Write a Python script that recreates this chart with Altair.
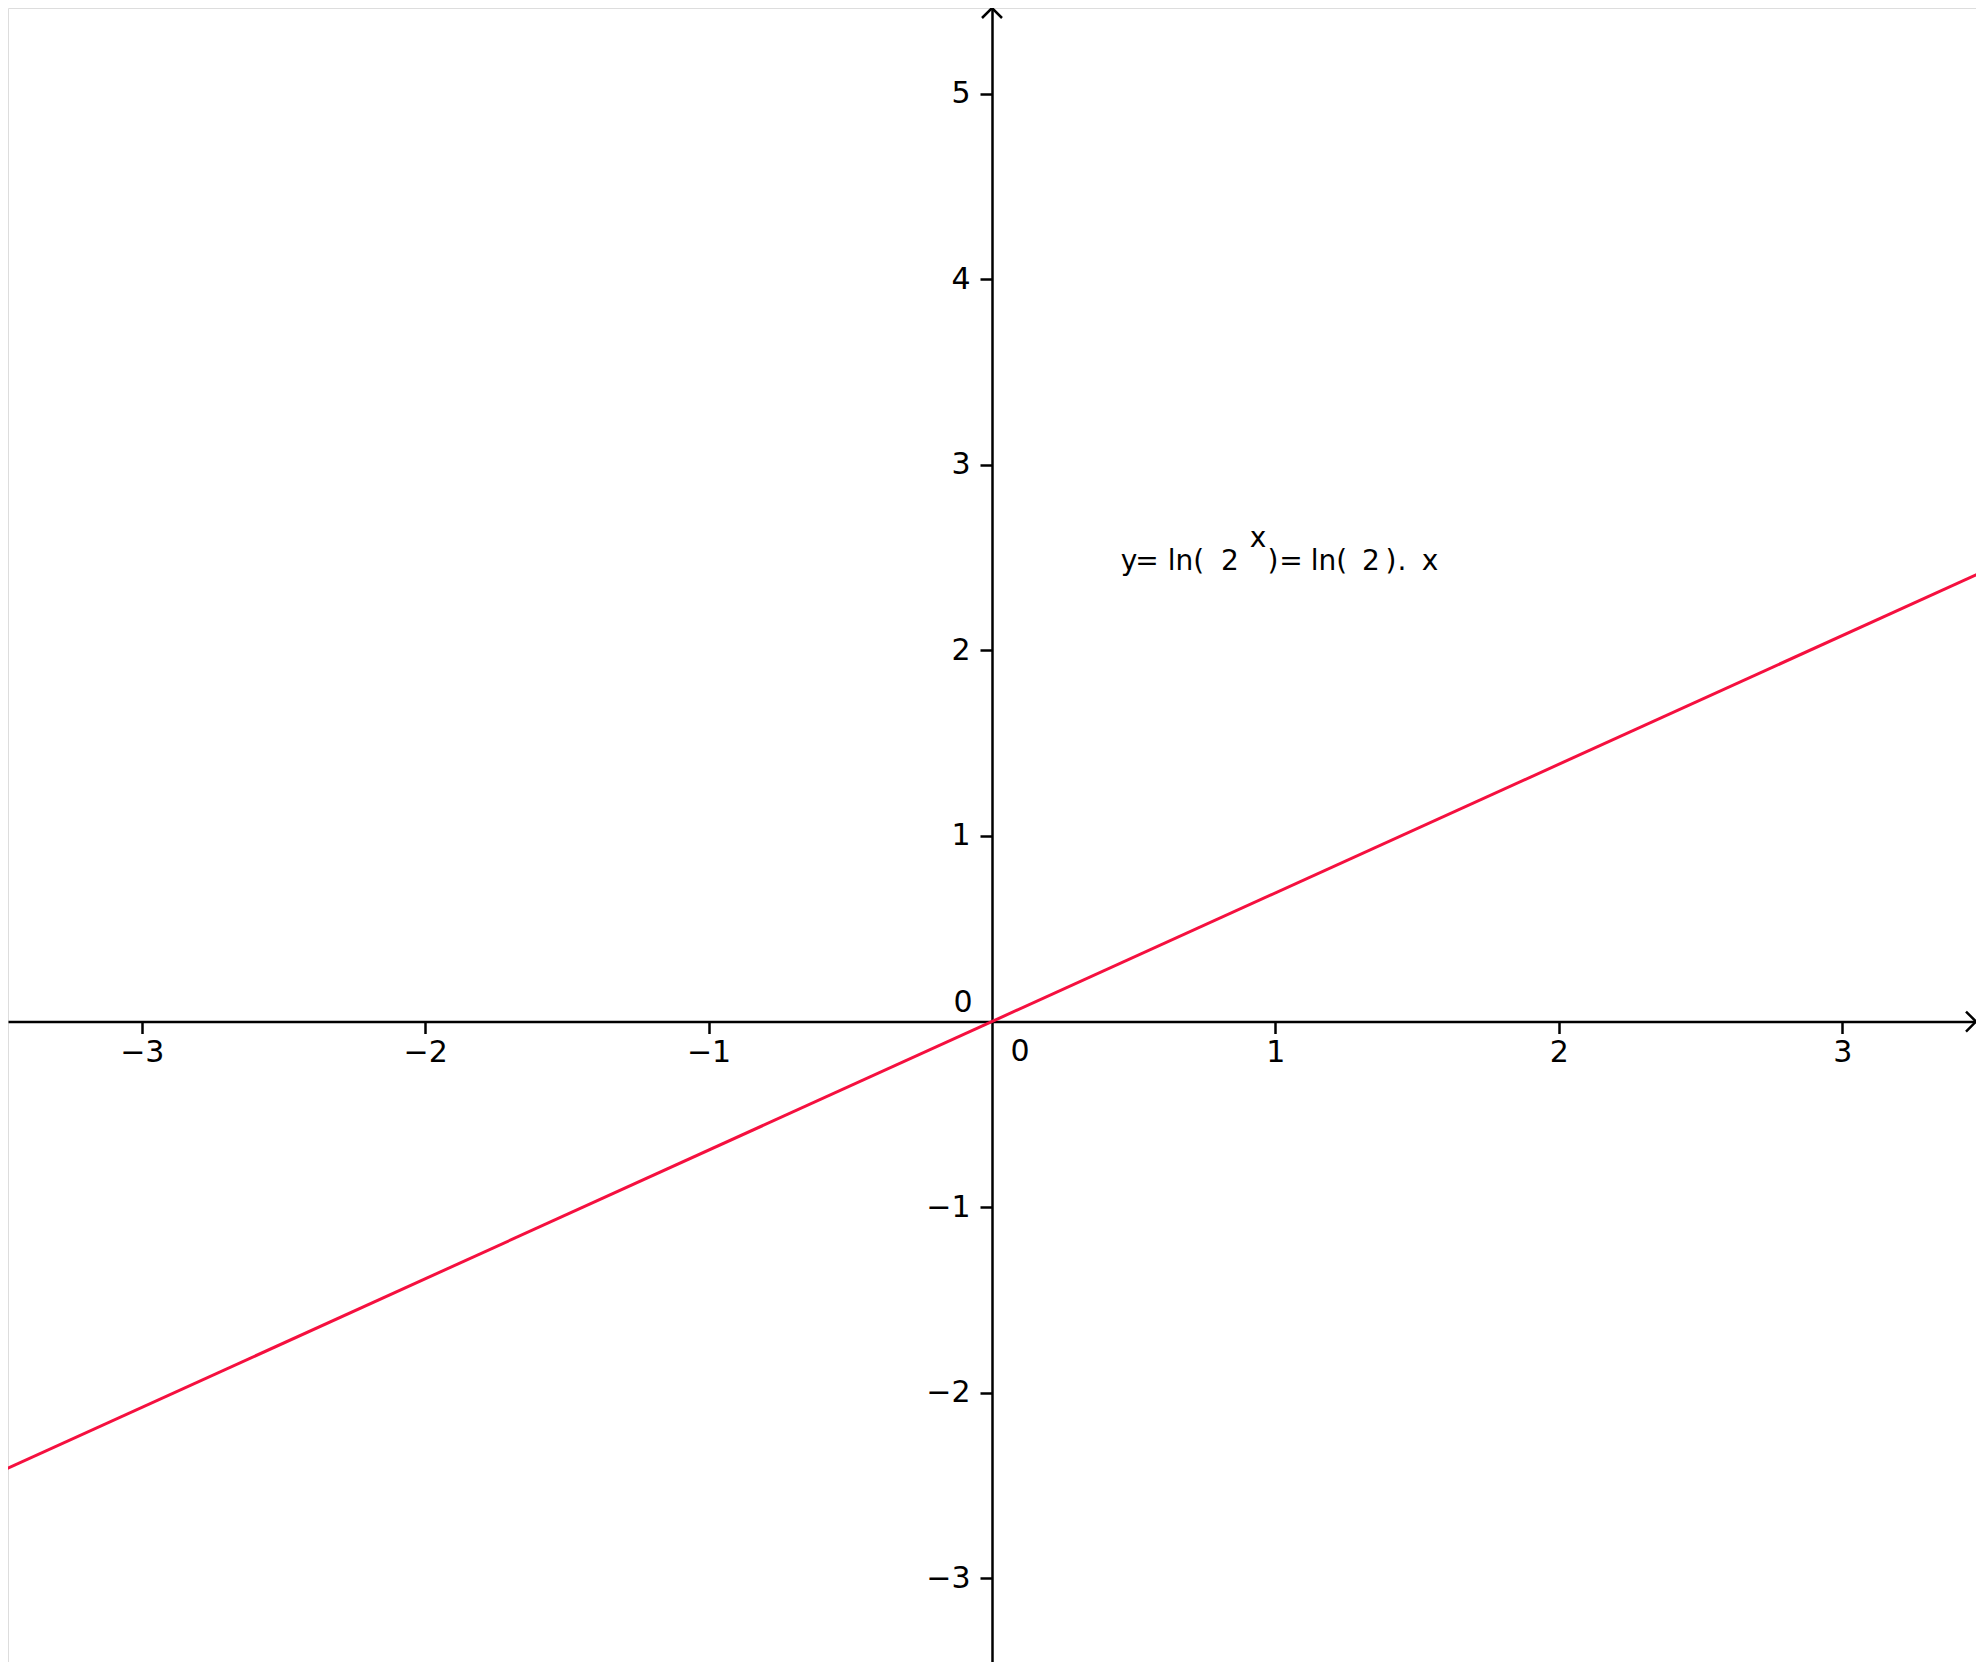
import altair as alt
import pandas as pd

# Function line y = ln(2)·x, read at the two edges of the view
line_x = [-3.5, 3.5]
line_y = [-2.426, 2.426]

# Tick values on each axis (0 is drawn separately, GeoGebra style)
x_ticks = [-3, -2, -1, 1, 2, 3]
y_ticks = [-3, -2, -1, 1, 2, 3, 4, 5]

# Visible window of the graph
x_domain = [-3.472, 3.472]
y_domain = [-3.451, 5.461]

# Annotation anchor and its pieces
label_x = [0.4516]
label_y = [2.4328]
label_pieces = ["y", "=", "ln(", "2", "x", ")", "=", "ln(", "2", ")", ".", "x"]

W, H = 1968, 1654
FONT = "DejaVu Sans"

xs = alt.Scale(domain=x_domain, nice=False, zero=False)
ys = alt.Scale(domain=y_domain, nice=False, zero=False)

axis_common = dict(
    grid=False, title=None, tickSize=12, tickWidth=2.5, domainWidth=2.5,
    domainColor="black", tickColor="black", labelColor="black", format="d",
    labelFont=FONT, labelFontSize=30, labelFlush=False, labelOverlap=False,
)

line_df = pd.DataFrame({"x": line_x, "y": line_y})

line = alt.Chart(line_df).mark_line(color="#f5103f", strokeWidth=3, clip=True).encode(
    x=alt.X("x:Q", scale=xs,
            axis=alt.Axis(values=x_ticks, orient="bottom", offset=-(1654 - 1013.5), labelPadding=4, **axis_common)),
    y=alt.Y("y:Q", scale=ys,
            axis=alt.Axis(values=y_ticks, orient="left", offset=-984, labelPadding=10, **axis_common)),
)

origin = pd.DataFrame({"x": [0], "y": [0], "t": ["0"]})
zero_y = alt.Chart(origin).mark_text(
    font=FONT, fontSize=30, color="black", align="center", baseline="middle", dx=-29, dy=-19
).encode(x=alt.X("x:Q", scale=xs), y=alt.Y("y:Q", scale=ys), text="t:N")
zero_x = alt.Chart(origin).mark_text(
    font=FONT, fontSize=30, color="black", align="center", baseline="middle", dx=28, dy=30
).encode(x=alt.X("x:Q", scale=xs), y=alt.Y("y:Q", scale=ys), text="t:N")

# Arrow heads at the ends of the axes
arrow_x_df = pd.DataFrame({"x": [x_domain[1]], "y": [0]})
arrow_y_df = pd.DataFrame({"x": [0], "y": [y_domain[1]]})
arrow_x = alt.Chart(arrow_x_df).mark_point(
    shape="M -1 -1 L 0 0 L -1 1", size=400, filled=False, stroke="black", strokeWidth=2.5, opacity=1
).encode(x=alt.X("x:Q", scale=xs), y=alt.Y("y:Q", scale=ys))
arrow_y = alt.Chart(arrow_y_df).mark_point(
    shape="M -1 1 L 0 0 L 1 1", size=400, filled=False, stroke="black", strokeWidth=2.5, opacity=1
).encode(x=alt.X("x:Q", scale=xs), y=alt.Y("y:Q", scale=ys))

# Equation label, piece by piece (centre offsets; superscript x raised)
piece_style = [(9, 0), (27, 0), (66, 0), (110, 0), (138, -23), (153, 0), (171, 0),
               (209, 0), (251, 0), (271, 0), (282, 0), (310, 0)]
lab_df = pd.DataFrame({"x": label_x, "y": label_y})
pieces = []
for txt, (dx, dy) in zip(label_pieces, piece_style):
    pieces.append(
        alt.Chart(lab_df).mark_text(
            font=FONT, fontSize=28, color="black", align="center", baseline="alphabetic", dx=dx, dy=dy
        ).encode(x=alt.X("x:Q", scale=xs), y=alt.Y("y:Q", scale=ys), text=alt.value(txt))
    )

chart = alt.layer(line, zero_y, zero_x, arrow_x, arrow_y, *pieces).properties(
    width=W, height=H, autosize="none", padding=0
).configure_view(strokeWidth=0, stroke="transparent").configure(background="white")

chart.save("out.html", embed_options={"renderer": "svg", "actions": False})
